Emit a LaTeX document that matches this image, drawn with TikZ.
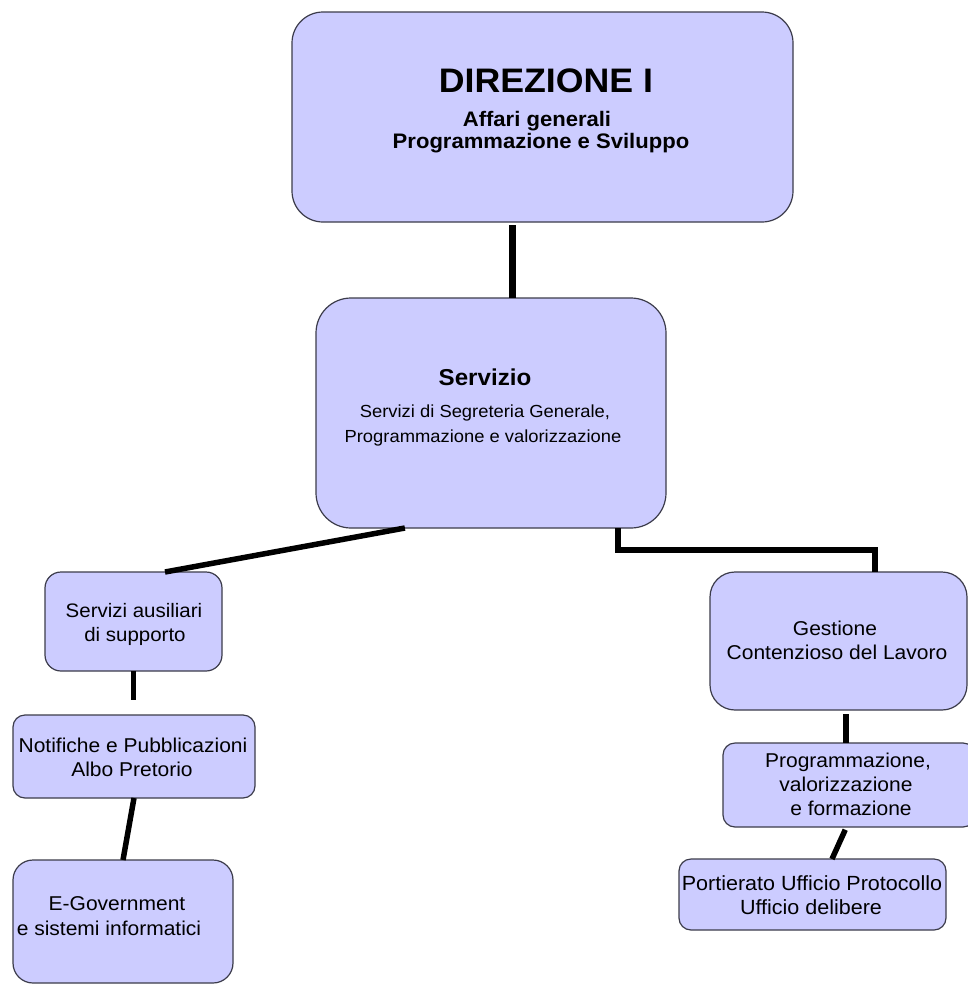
\documentclass[tikz,border=0pt]{standalone}
\usepackage{fontspec}
\setmainfont{Liberation Sans}
\usetikzlibrary{calc}
\definecolor{boxfill}{RGB}{204,204,255}
\definecolor{boxline}{RGB}{60,60,75}
\newcommand{\wt}[1]{\scalebox{1.05}[1]{#1}}
\newcommand{\fs}[1]{\fontsize{#1}{#1}\selectfont}
\begin{document}
\begin{tikzpicture}[x=1pt,y=-1pt,
  box/.style={draw=boxline, fill=boxfill, line width=1.2pt, inner sep=0pt, outer sep=0pt, rectangle},
  conn/.style={line width=5.5pt, black, line cap=butt, line join=miter},
  txt/.style={anchor=base, inner sep=0pt, outer sep=0pt, text=black}]
\useasboundingbox (0,0) rectangle (968,986);
\fill[white] (0,0) rectangle (968,986);

% boxes
\node[box, rounded corners=31pt, minimum width=501pt, minimum height=210pt] (dir) at (542.5,117) {};
\node[box, rounded corners=35pt, minimum width=350pt, minimum height=230pt] (serv) at (491,413) {};
\node[box, rounded corners=16pt, minimum width=177pt, minimum height=99pt] (aus) at (133.5,621.5) {};
\node[box, rounded corners=12pt, minimum width=242pt, minimum height=83pt] (notif) at (134,756.5) {};
\node[box, rounded corners=20pt, minimum width=220pt, minimum height=123pt] (egov) at (123,921.5) {};
\node[box, rounded corners=25pt, minimum width=257pt, minimum height=138pt] (gest) at (838.5,641) {};
\node[box, rounded corners=12pt, minimum width=252pt, minimum height=84pt] (prog) at (849,785) {};
\node[box, rounded corners=12pt, minimum width=267pt, minimum height=71pt] (port) at (812.5,894.5) {};

% texts
\node[txt, font=\fs{34}\bfseries] (dirA) at (546,92) {\wt{DIREZIONE I}};
\node[txt, font=\fs{21}\bfseries] (dirB) at (537,126) {\wt{Affari generali}};
\node[txt, font=\fs{21}\bfseries] (dirC) at (541,148) {\wt{Programmazione e Sviluppo}};

\node[txt, font=\fs{23}\bfseries] (servA) at (485,385) {\wt{Servizio}};
\node[txt, font=\fs{17.5}] (servB) at (485,417) {\wt{Servizi di Segreteria Generale,}};
\node[txt, font=\fs{17.5}] (servC) at (483,442) {\wt{Programmazione e valorizzazione}};

\node[txt, font=\fs{19.5}] (ausA) at (134,617) {\wt{Servizi ausiliari}};
\node[txt, font=\fs{19.5}] (ausB) at (135,641) {\wt{di supporto}};

\node[txt, font=\fs{20}] (notA) at (133,752) {\wt{Notifiche e Pubblicazioni}};
\node[txt, font=\fs{20}] (notB) at (132,776) {\wt{Albo Pretorio}};

\node[txt, font=\fs{20}] (egA) at (117,910) {\wt{E-Government}};
\node[txt, font=\fs{20}] (egB) at (109,935) {\wt{e sistemi informatici}};

\node[txt, font=\fs{20}] (geA) at (835,635) {\wt{Gestione}};
\node[txt, font=\fs{20}] (geB) at (837,659) {\wt{Contenzioso del Lavoro}};

\node[txt, font=\fs{20}] (prA) at (848,767) {\wt{Programmazione,}};
\node[txt, font=\fs{20}] (prB) at (846,791) {\wt{valorizzazione}};
\node[txt, font=\fs{20}] (prC) at (851,815) {\wt{e formazione}};

\node[txt, font=\fs{20.5}] (poA) at (812,890) {\wt{Portierato Ufficio Protocollo}};
\node[txt, font=\fs{20.5}] (poB) at (811,914) {\wt{Ufficio delibere}};

% connectors
\coordinate (d1) at ($(dir.south west)!0.44!(dir.south east)$);
\draw[conn, line width=6.5pt, shorten <=3pt] (d1) -- (d1 |- serv.north);

\draw[conn] ($(serv.south west)!0.254!(serv.south east)$) -- ($(aus.north west)!0.678!(aus.north east)$);

\coordinate (s2) at ($(serv.south west)!0.863!(serv.south east)$);
\coordinate (g2) at ($(gest.north west)!0.642!(gest.north east)$);
\draw[conn] (s2) -- ++(0,22) -| (g2);

\draw[conn, shorten >=15pt] (aus.south) -- (aus.south |- notif.north);
\draw[conn] (notif.south) -- (egov.north);

\coordinate (g3) at ($(gest.south west)!0.529!(gest.south east)$);
\draw[conn, shorten <=4pt] (g3) -- (g3 |- prog.north);

\draw[conn, shorten <=3pt] ($(prog.south west)!0.49!(prog.south east)$) -- ($(port.north west)!0.573!(port.north east)$);
\end{tikzpicture}
\end{document}
